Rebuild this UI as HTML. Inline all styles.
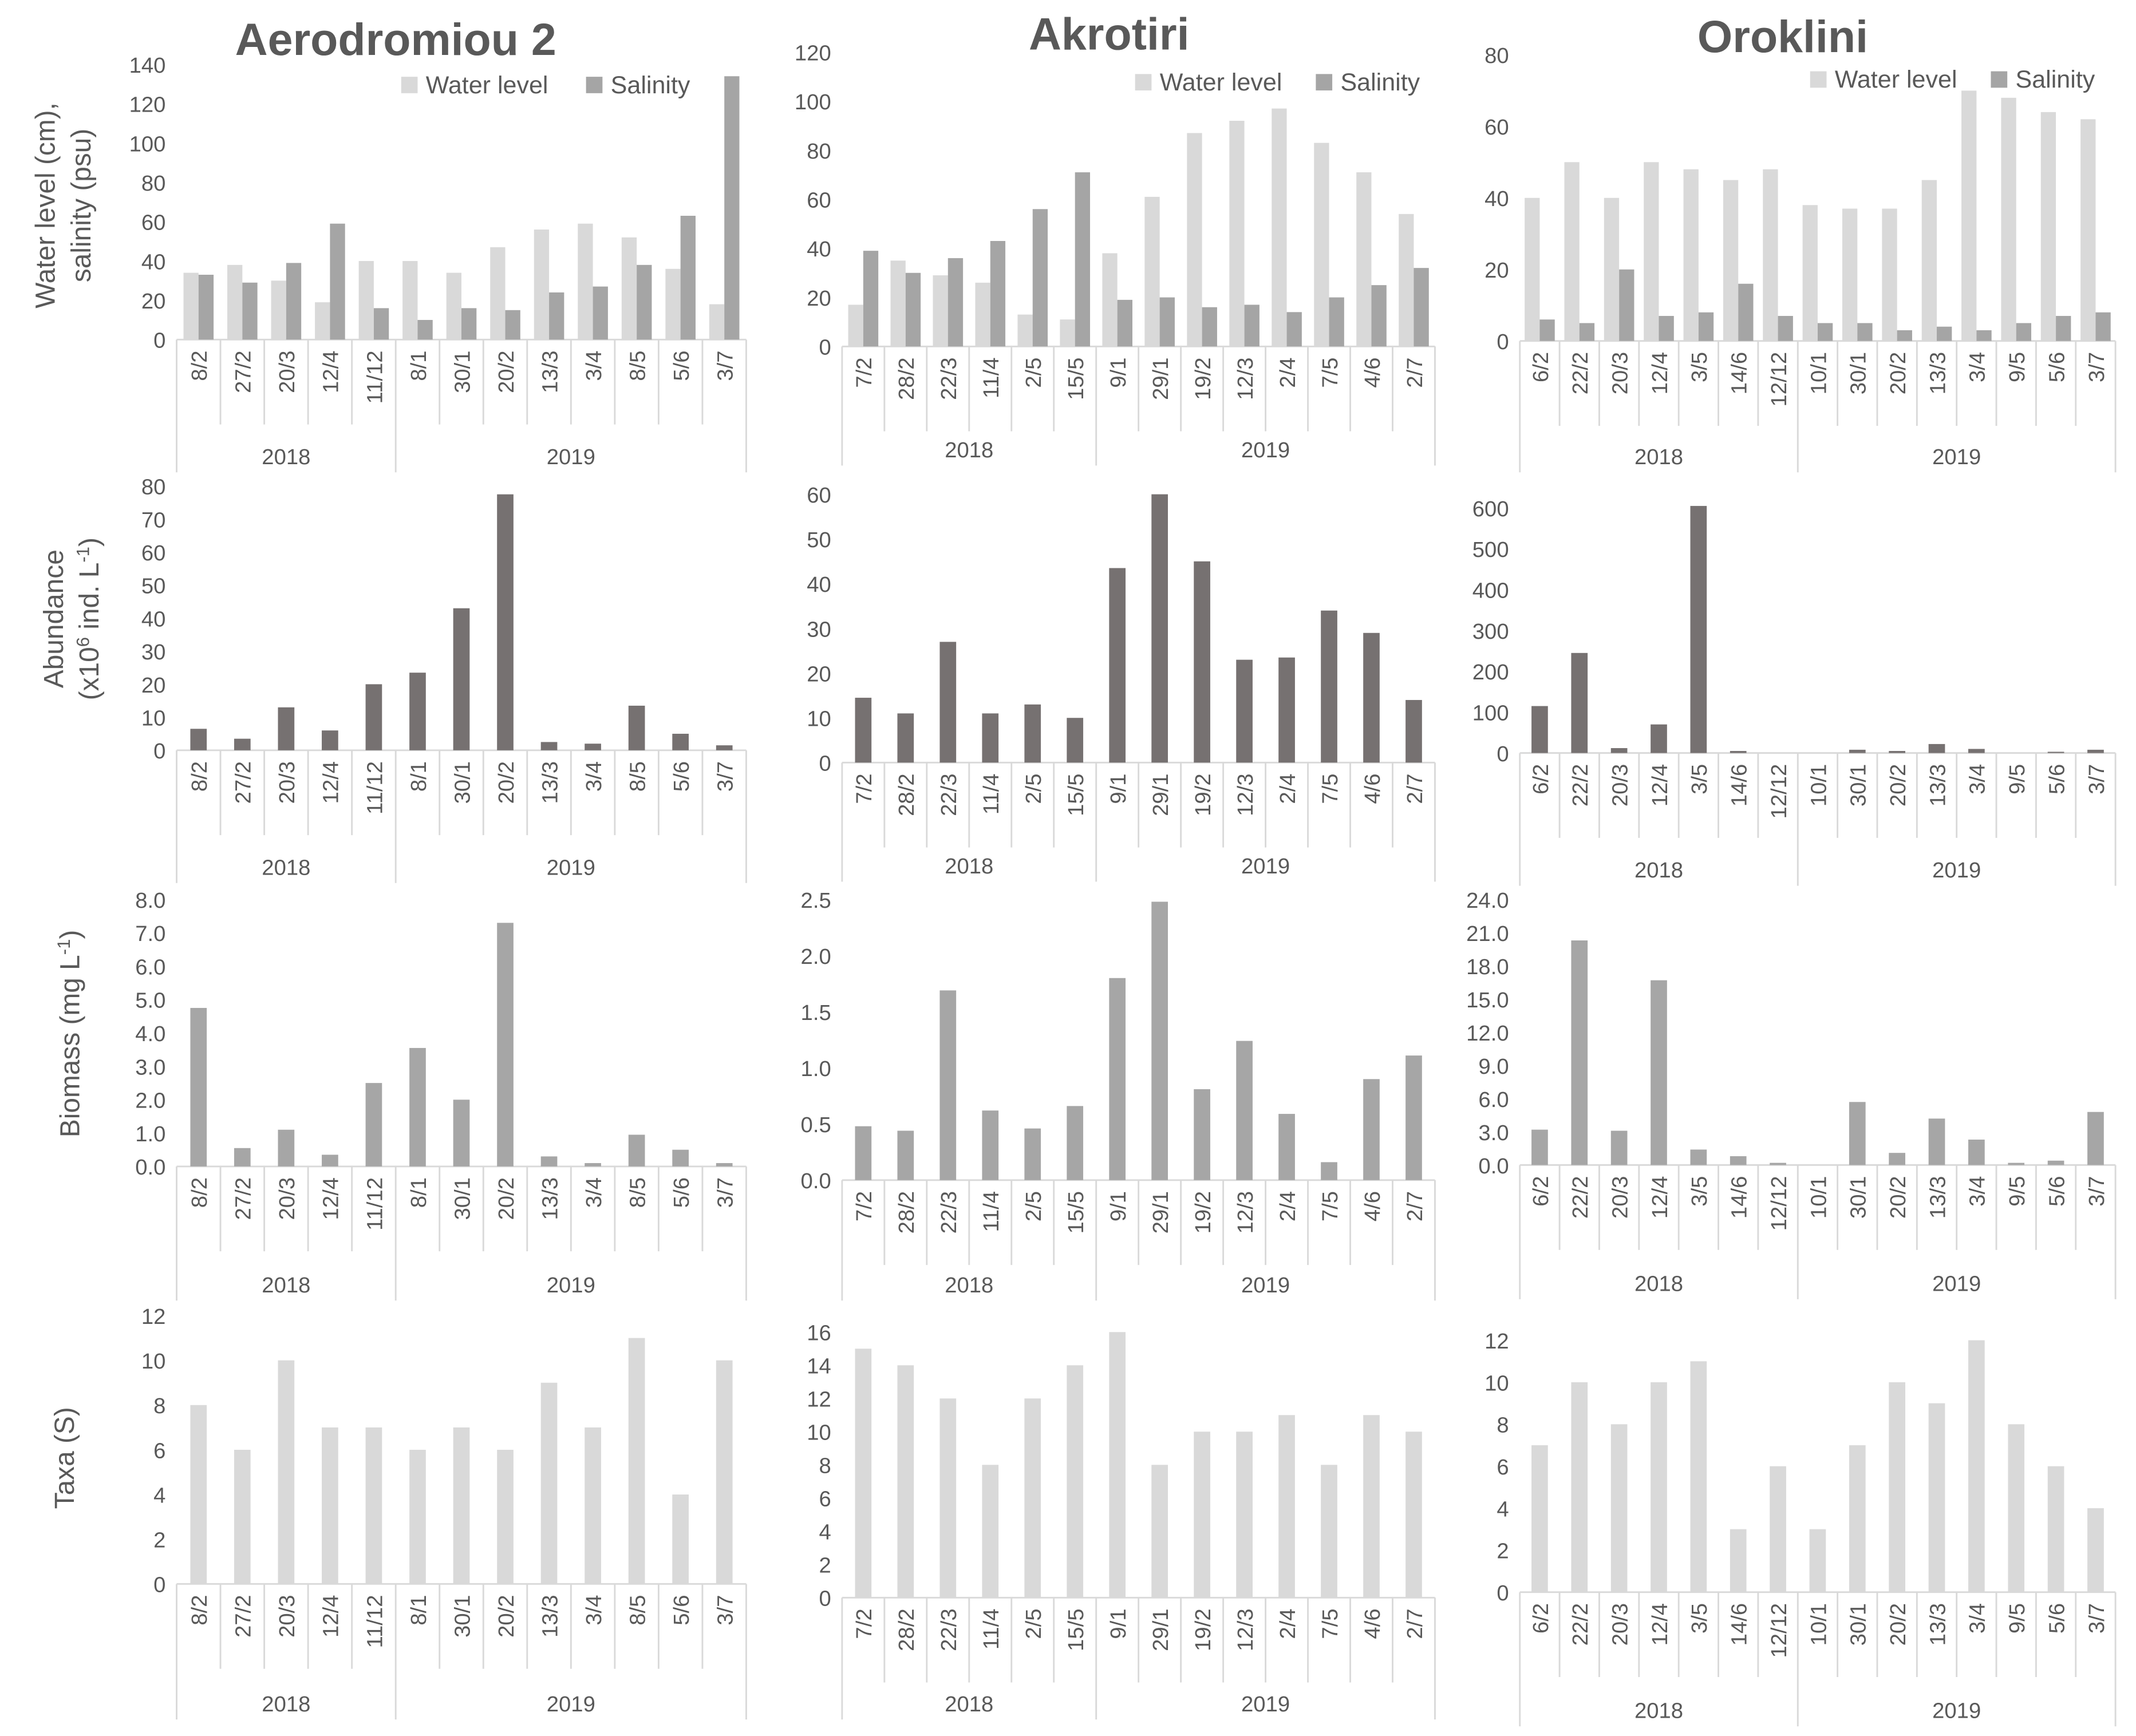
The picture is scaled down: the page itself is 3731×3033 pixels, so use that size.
<!DOCTYPE html>
<html><head><meta charset="utf-8"><style>
html,body{margin:0;padding:0;background:#fff;}
svg{display:block;}
text{font-family:"Liberation Sans",sans-serif;fill:#595959;}
</style></head>
<body>
<svg id="chart" width="3731" height="3033" viewBox="0 0 1560 1268" xmlns="http://www.w3.org/2000/svg">
<rect width="1560" height="1268" fill="#fff"/>
<text x="289" y="40" font-size="33" font-weight="bold" text-anchor="middle">Aerodromiou 2</text>
<text x="810" y="36" font-size="33" font-weight="bold" text-anchor="middle">Akrotiri</text>
<text x="1302" y="38" font-size="33" font-weight="bold" text-anchor="middle">Oroklini</text>
<text transform="translate(40,150) rotate(-90)" font-size="20" text-anchor="middle">Water level (cm),</text>
<text transform="translate(66,150) rotate(-90)" font-size="20" text-anchor="middle">salinity (psu)</text>
<text transform="translate(46,452) rotate(-90)" font-size="20" text-anchor="middle">Abundance</text>
<text transform="translate(72,452) rotate(-90)" font-size="20" text-anchor="middle">(x10<tspan dy="-7" font-size="13">6</tspan><tspan dy="7"> ind. L</tspan><tspan dy="-7" font-size="13">-1</tspan><tspan dy="7">)</tspan></text>
<text transform="translate(58,755) rotate(-90)" font-size="20" text-anchor="middle">Biomass (mg L<tspan dy="-7" font-size="13">-1</tspan><tspan dy="7">)</tspan></text>
<text transform="translate(54,1065) rotate(-90)" font-size="20" text-anchor="middle">Taxa (S)</text>
<g id="plots"></g>
</svg>
<script>
const cats1 = ["8/2","27/2","20/3","12/4","11/12","8/1","30/1","20/2","13/3","3/4","8/5","5/6","3/7"];
const cats2 = ["7/2","28/2","22/3","11/4","2/5","15/5","9/1","29/1","19/2","12/3","2/4","7/5","4/6","2/7"];
const cats3 = ["6/2","22/2","20/3","12/4","3/5","14/6","12/12","10/1","30/1","20/2","13/3","3/4","9/5","5/6","3/7"];
const split1 = 5, split2 = 6, split3 = 7;
const years = ["2018","2019"];
const water1 = [34,38,30,19,40,40,34,47,56,59,52,36,18];
const sal1 = [33,29,39,59,16,10,16,15,24,27,38,63,134];
const water2 = [17,35,29,26,13,11,38,61,87,92,97,83,71,54];
const sal2 = [39,30,36,43,56,71,19,20,16,17,14,20,25,32];
const water3 = [40,50,40,50,48,45,48,38,37,37,45,70,68,64,62];
const sal3 = [6,5,20,7,8,16,7,5,5,3,4,3,5,7,8];
const abund1 = [6.5,3.5,13,6,20,23.5,43,77.5,2.5,2,13.5,5,1.5];
const abund2 = [14.5,11,27,11,13,10,43.5,60,45,23,23.5,34,29,14];
const abund3 = [115,245,12,70,605,5,0,0,8,5,22,10,0,3,8];
const bio1 = [4.75,0.55,1.1,0.35,2.5,3.55,2.0,7.3,0.3,0.1,0.95,0.5,0.1];
const bio2 = [0.48,0.44,1.69,0.62,0.46,0.66,1.8,2.48,0.81,1.24,0.59,0.16,0.9,1.11];
const bio3 = [3.2,20.3,3.1,16.7,1.4,0.8,0.2,0,5.7,1.1,4.2,2.3,0.2,0.4,4.8];
const taxa1 = [8,6,10,7,7,6,7,6,9,7,11,4,10];
const taxa2 = [15,14,12,8,12,14,16,8,10,10,11,8,11,10];
const taxa3 = [7,10,8,10,11,3,6,3,7,10,9,12,8,6,4];
const ticksWL1 = [0,20,40,60,80,100,120,140];
const ticksWL2 = [0,20,40,60,80,100,120];
const ticksWL3 = [0,20,40,60,80];
const ticksAb1 = [0,10,20,30,40,50,60,70,80];
const ticksAb2 = [0,10,20,30,40,50,60];
const ticksAb3 = [0,100,200,300,400,500,600];
const ticksBio1 = [0,1,2,3,4,5,6,7,8];
const ticksBio2 = [0,0.5,1,1.5,2,2.5];
const ticksBio3 = [0,3,6,9,12,15,18,21,24];
const ticksTx1 = [0,2,4,6,8,10,12];
const ticksTx2 = [0,2,4,6,8,10,12,14,16];
const ticksTx3 = [0,2,4,6,8,10,12];

const NS="http://www.w3.org/2000/svg";
const root=document.getElementById('plots');
function mk(tag,attrs,parent){const e=document.createElementNS(NS,tag);for(const k in attrs)e.setAttribute(k,attrs[k]);(parent||root).appendChild(e);return e;}

const cols=[{x0:129,x1:545,cats:cats1,split:split1},{x0:615,x1:1048,cats:cats2,split:split2},{x0:1110,x1:1545,cats:cats3,split:split3}];

function panel(id,col,top,bottom,yearY,ticks,dec,series,legend){
  const c=cols[col];
  const g=mk('g',{});
  
  
  const max=ticks[ticks.length-1];
  const y=v=>bottom-(v/max)*(bottom-top);
  const n=c.cats.length, bw=(c.x1-c.x0)/n;
  const x=i=>c.x0+bw*(i+0.5);
  ticks.forEach(t=>{
    const tx=mk('text',{x:c.x0-8,y:y(t)+6,'font-size':16,'text-anchor':'end'},g);
    
    
    tx.textContent=dec?t.toFixed(dec):t;
  });
  const ax=mk('line',{x1:c.x0,x2:c.x1,y1:bottom,y2:bottom,stroke:'#d9d9d9','stroke-width':1.2},g);
  
  
  for(let i=0;i<=n;i++){
    const xx=c.x0+bw*i;
    const full=(i===0||i===n||i===c.split);
    mk('line',{x1:xx,x2:xx,y1:bottom,y2:full?yearY+12:bottom+62,stroke:'#d9d9d9','stroke-width':1.2},g);
  }
  c.cats.forEach((cat,i)=>{
    const t=mk('text',{transform:`translate(${x(i)+6},${bottom+8}) rotate(-90)`,'font-size':16,'text-anchor':'end'},g);
    
    
    t.textContent=cat;
  });
  [[0,c.split],[c.split,n]].forEach((r,k)=>{
    const t=mk('text',{x:c.x0+bw*(r[0]+r[1])/2,y:yearY+6,'font-size':16,'text-anchor':'middle'},g);
    
    
    t.textContent=years[k];
  });
  const ns=series.length, w=ns===2?11:12;
  series.forEach((s,si)=>{
    s.data.forEach((v,i)=>{
      const cx=ns===2?x(i)+(si===0?-w:0):x(i)-w/2;
      const r=mk('rect',{x:cx,y:y(v),width:w,height:Math.max(0,bottom-y(v)),fill:s.color},g);
      
      
    });
  });
  if(legend){
    series.forEach((s,si)=>{
      const lx=legend[si], ly=legend[2];
      const sq=mk('rect',{x:lx,y:ly-12,width:12,height:12,fill:s.color},g);
      
      
      const t=mk('text',{x:lx+18,y:ly,'font-size':18},g);
      
      
      t.textContent=s.label;
    });
  }
}
const WL='#d9d9d9',SA='#a5a5a5',AB='#767171',BI='#a6a6a6',TX='#d9d9d9';
panel('water-salinity-aerodromiou',0,47,248,333,ticksWL1,0,[{name:'water-level',label:'Water level',color:WL,data:water1},{name:'salinity',label:'Salinity',color:SA,data:sal1}],[293,428,68]);
panel('water-salinity-akrotiri',1,38,253,328,ticksWL2,0,[{name:'water-level',label:'Water level',color:WL,data:water2},{name:'salinity',label:'Salinity',color:SA,data:sal2}],[829,961,66]);
panel('water-salinity-oroklini',2,40,249,333,ticksWL3,0,[{name:'water-level',label:'Water level',color:WL,data:water3},{name:'salinity',label:'Salinity',color:SA,data:sal3}],[1322,1454,64]);
panel('abundance-aerodromiou',0,355,548,633,ticksAb1,0,[{name:'abundance',color:AB,data:abund1}]);
panel('abundance-akrotiri',1,361,557,632,ticksAb2,0,[{name:'abundance',color:AB,data:abund2}]);
panel('abundance-oroklini',2,371,550,635,ticksAb3,0,[{name:'abundance',color:AB,data:abund3}]);
panel('biomass-aerodromiou',0,657,852,938,ticksBio1,1,[{name:'biomass',color:BI,data:bio1}]);
panel('biomass-akrotiri',1,657,862,938,ticksBio2,1,[{name:'biomass',color:BI,data:bio2}]);
panel('biomass-oroklini',2,657,851,937,ticksBio3,1,[{name:'biomass',color:BI,data:bio3}]);
panel('taxa-aerodromiou',0,961,1157,1244,ticksTx1,0,[{name:'taxa',color:TX,data:taxa1}]);
panel('taxa-akrotiri',1,973,1167,1244,ticksTx2,0,[{name:'taxa',color:TX,data:taxa2}]);
panel('taxa-oroklini',2,979,1163,1249,ticksTx3,0,[{name:'taxa',color:TX,data:taxa3}]);
</script>
</body></html>
